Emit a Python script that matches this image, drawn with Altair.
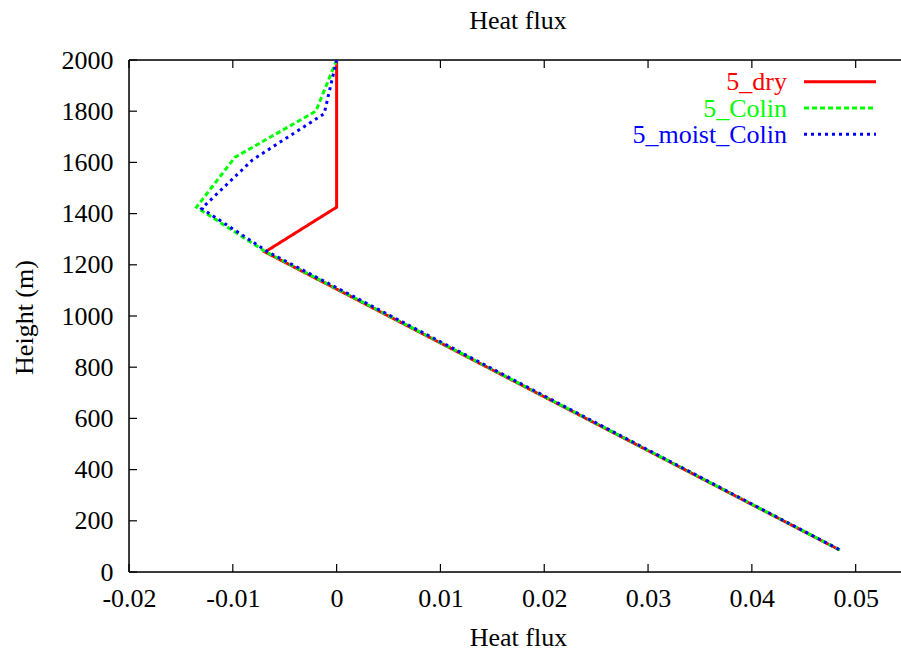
import altair as alt
import pandas as pd

# ---- data ----
dry_height = [2000, 1425, 1250, 86]
dry_flux = [0.0, 0.0, -0.0069, 0.04845]

colin_height = [2000, 1800, 1620, 1425, 1250, 86]
colin_flux = [0.0, -0.0020, -0.0098, -0.0135, -0.0068, 0.04848]

moist_height = [2000, 1790, 1610, 1420, 1250, 86]
moist_flux = [0.0, -0.0012, -0.0081, -0.0130, -0.0066, 0.0485]

series_names = ["5_dry", "5_Colin", "5_moist_Colin"]
series_colors = ["#ff0000", "#00ff00", "#0000ff"]
series_dash = [[1, 0], [5, 3], [3, 4]]

x_ticks = [-0.02, -0.01, 0, 0.01, 0.02, 0.03, 0.04, 0.05]
y_ticks = [0, 200, 400, 600, 800, 1000, 1200, 1400, 1600, 1800, 2000]

chart_title = "Heat flux"

W, H = 772, 512
PX_PER_UNIT = 10381
X_MIN = -0.02
X_MAX = X_MIN + W / PX_PER_UNIT
FONT = "Liberation Serif"
FS = 26

xscale = alt.Scale(domain=[X_MIN, X_MAX], nice=False, zero=False)
yscale = alt.Scale(domain=[0, 2000], nice=False)

xaxis = alt.Axis(values=x_ticks, labelExpr="'' + datum.value", tickSize=0, domain=False,
                 grid=False, labelFont=FONT, labelFontSize=FS, labelColor="black",
                 labelBaseline="alphabetic", labelPadding=34, labelFlush=False,
                 labelOverlap=False,
                 title="Heat flux", titleFont=FONT, titleFontSize=FS, titleFontWeight="normal",
                 titleColor="black", titleX=389, titleY=73, titleBaseline="alphabetic",
                 titleAlign="center")
yaxis = alt.Axis(values=y_ticks, labelExpr="'' + datum.value", tickSize=0, domain=False,
                 grid=False, labelFont=FONT, labelFontSize=FS, labelColor="black",
                 labelPadding=16, labelFlush=False, labelOverlap=False,
                 title="Height (m)", titleFont=FONT, titleFontSize=FS, titleFontWeight="normal",
                 titleColor="black", titleX=-97, titleY=257, titleAngle=270,
                 titleBaseline="alphabetic", titleAlign="center")

layers = []

# frame (left, bottom, top)
frame_df = pd.DataFrame({"k": [0]})
frame_style = dict(color="black", strokeWidth=1.5)
layers.append(alt.Chart(frame_df).mark_rule(**frame_style).encode(
    x=alt.value(0), y=alt.value(0), y2=alt.value(H)))
layers.append(alt.Chart(frame_df).mark_rule(**frame_style).encode(
    x=alt.value(0), x2=alt.value(W), y=alt.value(H)))
layers.append(alt.Chart(frame_df).mark_rule(**frame_style).encode(
    x=alt.value(0), x2=alt.value(W), y=alt.value(0)))

# inward ticks
xt = pd.DataFrame({"v": x_ticks})
yt = pd.DataFrame({"v": y_ticks})
layers.append(alt.Chart(xt).mark_rule(color="black", strokeWidth=1.2).encode(
    x=alt.X("v:Q", scale=xscale, axis=xaxis), y=alt.value(H), y2=alt.value(H - 8)))
layers.append(alt.Chart(xt).mark_rule(color="black", strokeWidth=1.2).encode(
    x=alt.X("v:Q", scale=xscale), y=alt.value(0), y2=alt.value(8)))
layers.append(alt.Chart(yt).mark_rule(color="black", strokeWidth=1.2).encode(
    y=alt.Y("v:Q", scale=yscale, axis=yaxis), x=alt.value(0), x2=alt.value(8)))

# data lines
all_series = [(dry_flux, dry_height), (colin_flux, colin_height), (moist_flux, moist_height)]
for (fx, hy), name, col, dash in zip(all_series, series_names, series_colors, series_dash):
    df = pd.DataFrame({"flux": fx, "height": hy, "idx": list(range(len(fx))), "series": name})
    layers.append(alt.Chart(df).mark_line(color=col, strokeWidth=3, strokeDash=dash,
                                          clip=True).encode(
        x=alt.X("flux:Q", scale=xscale),
        y=alt.Y("height:Q", scale=yscale),
        order="idx:Q"))

# legend
for i, (name, col, dash) in enumerate(zip(series_names, series_colors, series_dash)):
    ly = 21.7 + i * 26.3
    ldf = pd.DataFrame({"label": [name]})
    layers.append(alt.Chart(ldf).mark_text(font=FONT, fontSize=FS, color=col, align="right",
                                           baseline="alphabetic").encode(
        text="label:N", x=alt.value(658), y=alt.value(ly + 8.5)))
    layers.append(alt.Chart(ldf).mark_rule(color=col, strokeWidth=3, strokeDash=dash).encode(
        x=alt.value(675), x2=alt.value(747), y=alt.value(ly)))

# chart title
tdf = pd.DataFrame({"t": [chart_title]})
layers.append(alt.Chart(tdf).mark_text(font=FONT, fontSize=FS, color="black", align="center",
                                       baseline="alphabetic").encode(
    text="t:N", x=alt.value(389), y=alt.value(-31)))

chart = alt.layer(*layers).properties(
    width=W, height=H,
    autosize=alt.AutoSizeParams(type="none"),
    padding={"left": 129, "top": 60, "right": 0, "bottom": 78},
).configure_view(stroke=None).configure(background="white")

chart.save("out.html", embed_options={"renderer": "svg", "actions": False})
